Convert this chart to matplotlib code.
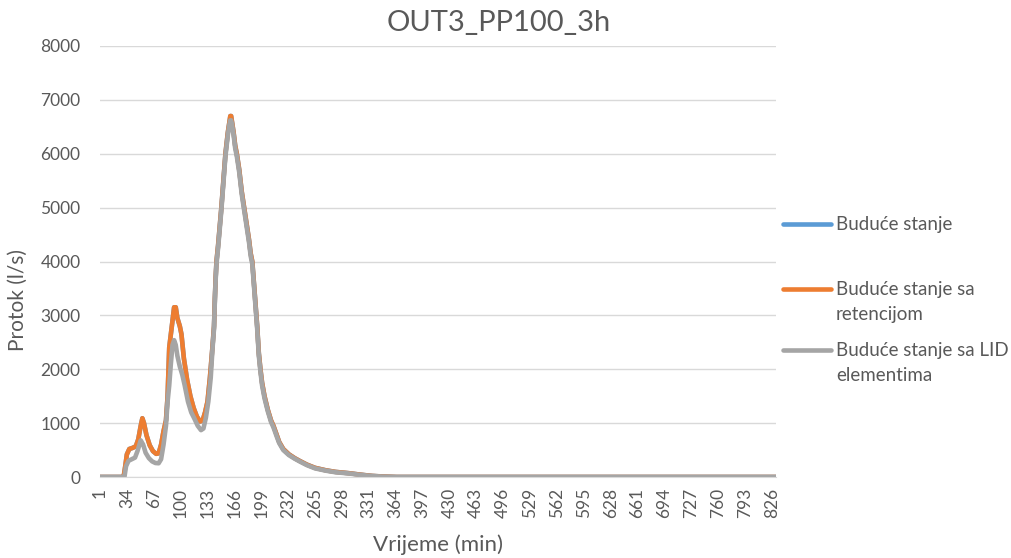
import matplotlib
matplotlib.use("Agg")
import matplotlib.pyplot as plt
from matplotlib.lines import Line2D

plt.rcParams['font.family'] = ['Lato', 'DejaVu Sans']

title = "OUT3_PP100_3h"
x_label = "Vrijeme (min)"
y_label = "Protok (l/s)"
series_names = ["Buduće stanje", "Buduće stanje sa\nretencijom", "Buduće stanje sa LID\nelementima"]
n_minutes = 831
x_ticks = list(range(1, 827, 33))
y_ticks = [0, 1000, 2000, 3000, 4000, 5000, 6000, 7000, 8000]

# Retention series (orange); the blue series lies under it
ret_t = [1, 29, 30, 32, 34, 37, 41, 45, 48, 51, 53, 55, 58, 62, 66, 70, 73, 76, 79, 82,
         84, 86, 88, 90, 92, 94, 96, 99, 101, 104, 108, 112, 116, 120, 124, 127, 130,
         133, 136, 139, 141, 142, 143, 144, 146, 148, 150, 152, 155, 158, 160, 161, 162,
         163, 165, 167, 169, 172, 175, 178, 181, 184, 186, 188, 190, 192, 194, 196, 198,
         200, 203, 207, 211, 214, 218, 221, 226, 233, 240, 246, 255, 265, 278, 290, 307,
         320, 335, 350, 365, 831]
ret_v = [0, 0, 0, 200, 420, 520, 540, 570, 700, 950, 1090, 1000, 780, 590, 480, 430, 440,
         600, 850, 1050, 1500, 2400, 2650, 2900, 3150, 3150, 2950, 2800, 2650, 2200, 1800,
         1500, 1280, 1120, 1030, 1050, 1200, 1400, 1850, 2400, 2800, 3300, 3700, 4000,
         4300, 4650, 5000, 5400, 6000, 6400, 6600, 6700, 6700, 6600, 6400, 6150, 6000,
         5700, 5300, 5000, 4700, 4400, 4150, 4000, 3600, 3200, 2800, 2300, 2000, 1750,
         1500, 1250, 1050, 950, 780, 650, 520, 420, 350, 300, 230, 170, 125, 95, 70, 45,
         20, 8, 0, 0]

# Future state (blue) - hidden under the retention series
base_t = ret_t
base_v = ret_v

# LID series (gray)
lid_t = [1, 30, 31, 33, 36, 40, 44, 47, 51, 54, 57, 61, 65, 69, 73, 76, 79, 82, 84, 86,
         88, 90, 92, 94, 96, 99, 102, 105, 109, 113, 117, 121, 125, 128, 131, 134, 137,
         139, 141, 142, 143, 144, 146, 148, 150, 152, 155, 158, 160, 161, 162, 163, 165,
         167, 169, 172, 175, 178, 181, 184, 186, 188, 190, 192, 194, 196, 198, 200, 203,
         207, 211, 214, 218, 221, 226, 233, 240, 246, 255, 265, 278, 290, 307, 320, 335,
         350, 365, 831]
lid_v = [0, 0, 0, 200, 300, 330, 360, 480, 680, 600, 450, 350, 290, 260, 255, 330, 600,
         950, 1400, 1700, 2100, 2450, 2540, 2450, 2250, 2050, 1900, 1700, 1400, 1200, 1080,
         950, 870, 900, 1100, 1400, 1850, 2350, 2750, 3250, 3650, 3950, 4250, 4600, 4950,
         5350, 5950, 6350, 6550, 6620, 6620, 6550, 6350, 6100, 5950, 5650, 5250, 4950,
         4650, 4350, 4100, 3950, 3550, 3150, 2750, 2250, 1950, 1700, 1460, 1220, 1020,
         920, 750, 630, 500, 405, 340, 290, 220, 160, 118, 88, 65, 40, 18, 6, 0, 0]

colors = ["#5B9BD5", "#ED7D31", "#A5A5A5"]
txt = "#595959"

fig = plt.figure(figsize=(10.12, 5.58), dpi=100)
ax = fig.add_axes([100 / 1012, 81 / 558, 676 / 1012, 431 / 558])

lw = 3.3
ax.plot(base_t, base_v, color=colors[0], lw=lw, solid_joinstyle='round', solid_capstyle='round')
ax.plot(ret_t, ret_v, color=colors[1], lw=lw, solid_joinstyle='round', solid_capstyle='round')
ax.plot(lid_t, lid_v, color=colors[2], lw=lw, solid_joinstyle='round', solid_capstyle='round')

ax.set_xlim(1, n_minutes)
ax.set_ylim(0, 8000)
ax.set_yticks(y_ticks)
ax.set_yticklabels([str(v) for v in y_ticks])
ax.set_xticks(x_ticks)
ax.set_xticklabels([str(v) for v in x_ticks], rotation=90)
ax.grid(axis='y', color='#D9D9D9', lw=1.0)
ax.set_axisbelow(True)
for s in ['top', 'right', 'left']:
    ax.spines[s].set_visible(False)
ax.spines['bottom'].set_color('#D9D9D9')
ax.tick_params(axis='both', length=0, colors=txt, labelsize=12.5)
ax.tick_params(axis='y', pad=14)
ax.tick_params(axis='x', pad=8)

fig.text(499 / 1012, 1 - 23 / 558, title, fontsize=21, color=txt, ha='center', va='center')
fig.text(438 / 1012, 1 - 545 / 558, x_label, fontsize=16, color=txt, ha='center', va='center')
fig.text(18 / 1012, 1 - 300 / 558, y_label, fontsize=15, color=txt, ha='center', va='center',
         rotation=90)

# legend (manual placement to match the reference)
leg_y = [224, 289, 350]
for name, c, yy in zip(series_names, colors, leg_y):
    fy = 1 - yy / 558
    fig.add_artist(Line2D([783 / 1012, 831 / 1012], [fy, fy], color=c, lw=3.3,
                          solid_capstyle='round', transform=fig.transFigure))
    extra = 25 * name.count("\n")
    fig.text(836 / 1012, 1 - (yy + 6 + extra) / 558, name, fontsize=13.5, color=txt,
             ha='left', va='baseline', linespacing=1.55, transform=fig.transFigure)

fig.savefig("out.png", dpi=100)
